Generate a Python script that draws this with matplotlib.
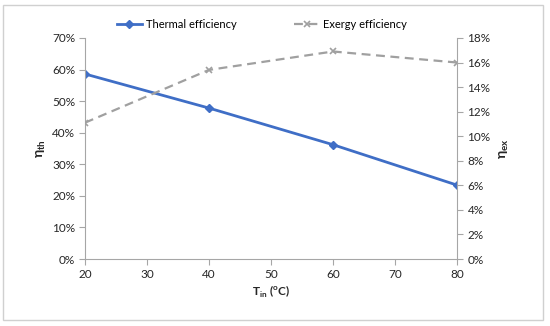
import matplotlib
matplotlib.use("Agg")
import matplotlib.pyplot as plt
from matplotlib.ticker import FuncFormatter, MultipleLocator
from matplotlib.patches import Rectangle

plt.rcParams['font.family'] = ['Lato', 'DejaVu Sans']

t_in = [20, 40, 60, 80]
thermal = [58.6, 47.8, 36.2, 23.4]
exergy = [11.1, 15.4, 16.9, 16.0]

x_ticks = [20, 30, 40, 50, 60, 70, 80]

blue = '#3F6EC6'
gray = '#A0A0A0'
axis_col = '#A6A6A6'
txt = '#262626'

fig = plt.figure(figsize=(5.5, 3.26), dpi=100)
fig.patches.append(Rectangle((0.006, 0.018), 0.981, 0.968, transform=fig.transFigure,
                             fill=False, edgecolor='#D0D0D0', linewidth=1.0))
ax = fig.add_axes([0.1545, 0.2055, 0.6765, 0.678])
ax2 = ax.twinx()

l1, = ax.plot(t_in, thermal, color=blue, lw=2, marker='D', ms=4, label='Thermal efficiency')
l2, = ax2.plot(t_in, exergy, color=gray, lw=1.6, ls=(0, (4, 2.5)), marker='x', ms=5,
               mew=1.2, label='Exergy efficiency')

ax.set_xlim(20, 80)
ax.set_ylim(0, 70)
ax2.set_ylim(0, 18)
ax.set_xticks(x_ticks)
ax.yaxis.set_major_locator(MultipleLocator(10))
ax2.yaxis.set_major_locator(MultipleLocator(2))
pct = FuncFormatter(lambda v, p: f"{v:.0f}%")
ax.yaxis.set_major_formatter(pct)
ax2.yaxis.set_major_formatter(pct)

for a in (ax, ax2):
    for s in a.spines.values():
        s.set_visible(False)
    a.tick_params(colors=axis_col, labelcolor=txt, labelsize=8.5, length=4, width=0.8)
ax.spines['left'].set_visible(True)
ax.spines['left'].set_color(axis_col)
ax.spines['bottom'].set_visible(True)
ax.spines['bottom'].set_color(axis_col)
ax2.spines['right'].set_visible(True)
ax2.spines['right'].set_color(axis_col)
ax.tick_params(axis='y', pad=3)
ax.tick_params(axis='x', pad=3)

ax.set_xlabel(r'T$_{\mathregular{in}}$ ($^{\mathregular{o}}$C)', fontsize=8.5, fontweight='bold', color=txt, labelpad=3)
ax.set_ylabel(r'η$_{\mathregular{th}}$', fontsize=10, fontweight='bold', color=txt, labelpad=3)
ax2.set_ylabel(r'η$_{\mathregular{ex}}$', fontsize=10, fontweight='bold', color=txt, labelpad=5)

fig.legend(handles=[l1, l2], loc='center', bbox_to_anchor=(0.476, 0.924), ncol=2,
           frameon=False, fontsize=8, handlelength=2.3, columnspacing=5.2, handletextpad=0.3)

fig.savefig('out.png', dpi=100)
